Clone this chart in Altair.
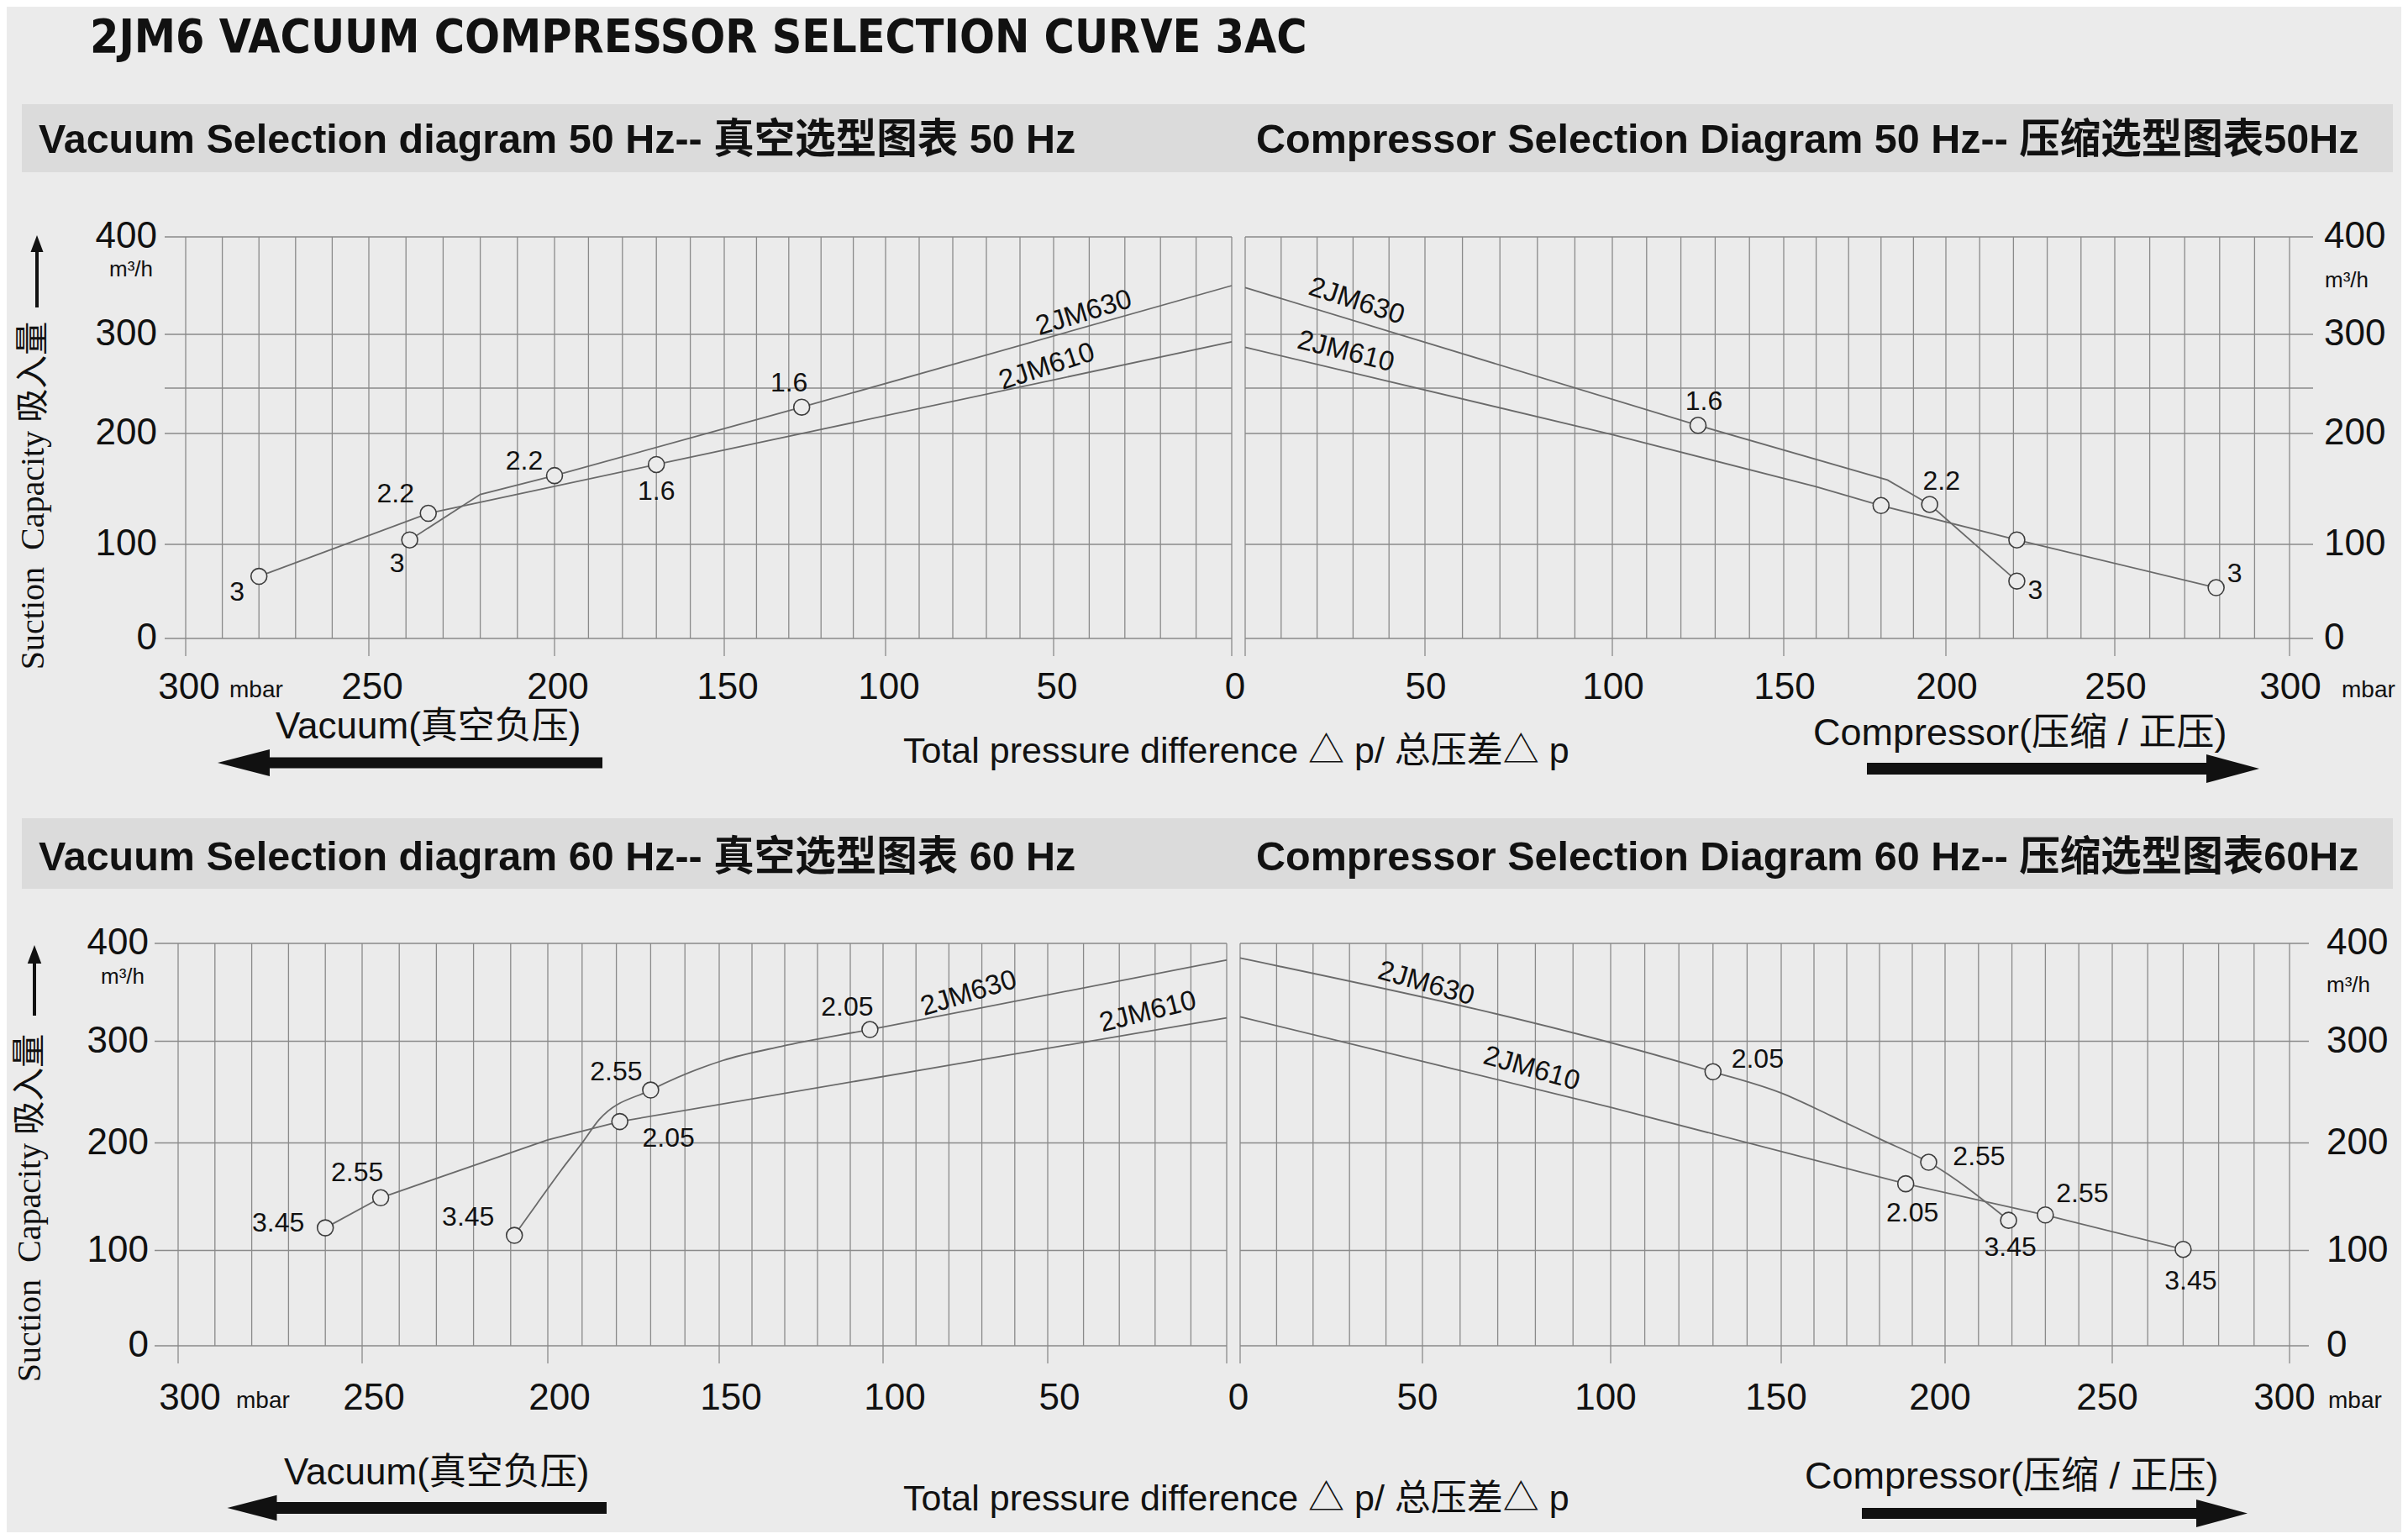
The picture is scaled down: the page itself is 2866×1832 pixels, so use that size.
import altair as alt
import pandas as pd

# ------------------------------------------------------------------
# Values
# x = total pressure difference (mbar), y = suction capacity (m3/h)
# ------------------------------------------------------------------

# Vacuum, 50 Hz
V50_610_X = [280, 234, 170, 0]
V50_610_Y = [66, 128, 172, 293]
V50_630_X = [239, 220, 200, 126, 0]
V50_630_Y = [104, 145, 162, 229, 350]
V50_PT_X = [280, 234, 170, 239, 200, 126]
V50_PT_Y = [66, 128, 172, 104, 162, 229]
V50_PT_KW = ["3", "2.2", "1.6", "3", "2.2", "1.6"]

# Compressor, 50 Hz
C50_630_X = [0, 125, 182, 195, 221]
C50_630_Y = [348, 209, 158, 136, 61]
C50_610_X = [0, 100, 160, 180, 221, 279]
C50_610_Y = [288, 199, 152, 135, 104, 54]
C50_PT_X = [125, 195, 221, 180, 221, 279]
C50_PT_Y = [209, 136, 61, 135, 104, 54]
C50_PT_KW = ["1.6", "2.2", "3", "", "", "3"]

# Vacuum, 60 Hz
V60_610_X = [260, 245, 200, 179, 0]
V60_610_Y = [121, 149, 203, 221, 324]
V60_630_X = [209, 203, 196, 190, 185, 170, 149, 131, 104, 0]
V60_630_Y = [114, 143, 175, 200, 223, 252, 281, 295, 312, 383]
V60_PT_X = [260, 245, 179, 209, 170, 104]
V60_PT_Y = [121, 149, 221, 114, 252, 312]
V60_PT_KW = ["3.45", "2.55", "2.05", "3.45", "2.55", "2.05"]

# Compressor, 60 Hz
C60_630_X = [0, 130, 150, 165, 180, 195, 219]
C60_630_Y = [385, 270, 249, 227, 204, 182, 128]
C60_610_X = [0, 100, 188, 230, 270]
C60_610_Y = [325, 235, 162, 133, 101]
C60_PT_X = [130, 195, 219, 188, 230, 270]
C60_PT_Y = [270, 182, 128, 162, 133, 101]
C60_PT_KW = ["2.05", "2.55", "3.45", "2.05", "2.55", "3.45"]

# series names written along the curves: (name, x, y)
V50_NAMES = [("2JM630", 41.5, 322), ("2JM610", 52, 270)]
C50_NAMES = [("2JM630", 31, 334), ("2JM610", 28, 284)]
V60_NAMES = [("2JM630", 74, 349), ("2JM610", 22, 330)]
C60_NAMES = [("2JM630", 51, 359), ("2JM610", 79, 273)]

# axis values
X_TICKS = [0, 50, 100, 150, 200, 250, 300]
X_GRID = [0, 10, 20, 30, 40, 50, 60, 70, 80, 90, 100, 110, 120, 130, 140, 150,
          160, 170, 180, 190, 200, 210, 220, 230, 240, 250, 260, 270, 280, 290, 300]
Y_TICKS = [0, 100, 200, 300, 400]
Y_GRID_50 = [0, 100, 200, 250, 300, 400]
Y_GRID_60 = [0, 100, 200, 300, 400]

# ------------------------------------------------------------------
# Styles / layout
# ------------------------------------------------------------------
BG = "#ebebeb"
BAND = "#dbdbdb"
GRID = "#8a8a8a"
CURVE = "#6a6a6a"
INK = "#111111"
FONT = "Liberation Sans, Arial, Noto Sans CJK SC, sans-serif"
SERIF = "Liberation Serif, Times New Roman, Noto Sans CJK SC, serif"
TITLE_FONT = "Liberation Sans Narrow, DejaVu Sans Condensed, Liberation Sans, sans-serif"
TICK_FS = 44

M = 8
W, H = 2850, 1816


def P(v):
    return v - M


X_DOM = [0, 50, 100, 150, 200, 250, 300, 306]
TOP_YDOM = [0, 100, 200, 250, 300, 400]
TOP_YR = [760, 648, 516, 462, 398, 282]
BOT_YDOM = [0, 100, 200, 300, 400]
BOT_YR = [1602, 1488.5, 1360.5, 1239.5, 1123]

LAYOUT = {
    "TL": dict(xr=[1466, 1254, 1054, 862, 660, 439, 221, 196], ydom=TOP_YDOM, yr=TOP_YR,
               side="left", ypad=9, unit=(-14, 39), mbar=52, xlab_dy=59, xlab_dx=4, zero=True),
    "TR": dict(xr=[1482, 1696, 1919, 2123, 2316, 2517, 2725, 2753], ydom=TOP_YDOM, yr=TOP_YR,
               side="right", ypad=13, unit=(14, 52), mbar=62, xlab_dy=59, xlab_dx=1, zero=False),
    "BL": dict(xr=[1460, 1247, 1051, 856, 652, 431, 212, 184], ydom=BOT_YDOM, yr=BOT_YR,
               side="left", ypad=7, unit=(-12, 40), mbar=69, xlab_dy=63, xlab_dx=14, zero=True),
    "BR": dict(xr=[1476, 1693, 1917, 2120, 2315, 2514, 2725, 2748], ydom=BOT_YDOM, yr=BOT_YR,
               side="right", ypad=21, unit=(21, 50), mbar=46, xlab_dy=63, xlab_dx=-6, zero=False),
}

LABEL_OFFSETS = {
    "TL": [(-26, 19), (-39, -23), (0, 32), (-15, 28), (-36, -17), (-15, -29)],
    "TR": [(7, -28), (14, -27), (22, 11), (0, 0), (0, 0), (22, -17)],
    "BL": [(-56, -6), (-28, -30), (58, 20), (-55, -22), (-41, -22), (-27, -27)],
    "BR": [(53, -15), (60, -7), (2, 32), (8, 35), (44, -25), (9, 38)],
}
NAME_ANGLES = {"TL": [343, 342], "TR": [18, 14], "BL": [343, 346], "BR": [16, 16]}


def panel(key, series, pts, names, ygrid):
    L = LAYOUT[key]
    xs = alt.Scale(domain=X_DOM, range=[P(v) for v in L["xr"]], nice=False, zero=False)
    ys = alt.Scale(domain=L["ydom"], range=[P(v) for v in L["yr"]], nice=False, zero=False)
    y0 = P(L["yr"][0])
    left = L["side"] == "left"

    def X(f):
        return alt.X(f, scale=xs, axis=None)

    def Y(f):
        return alt.Y(f, scale=ys, axis=None)

    one = pd.DataFrame({"k": [0]})
    layers = []
    # grid
    layers.append(
        alt.Chart(pd.DataFrame({"v": X_GRID})).mark_rule(color=GRID, strokeWidth=1.3).encode(
            x=X("v:Q"), y=alt.Y(datum=0, scale=ys, axis=None), y2=alt.Y2(datum=400))
    )
    layers.append(
        alt.Chart(pd.DataFrame({"v": ygrid})).mark_rule(color=GRID, strokeWidth=1.6).encode(
            y=Y("v:Q"), x=alt.X(datum=0, scale=xs, axis=None), x2=alt.X2(datum=306))
    )
    # x ticks below the zero line and tick labels
    layers.append(
        alt.Chart(pd.DataFrame({"v": X_TICKS})).mark_rule(color=GRID, strokeWidth=1.3).encode(
            x=X("v:Q"), y=alt.Y(datum=0, scale=ys, axis=None), y2=alt.value(y0 + 21))
    )
    xlab = X_TICKS if L["zero"] else [v for v in X_TICKS if v != 0]
    layers.append(
        alt.Chart(pd.DataFrame({"v": xlab})).mark_text(
            fontSize=TICK_FS, font=FONT, color=INK, baseline="middle",
            dx=L["xlab_dx"], dy=L["xlab_dy"]).encode(
            x=X("v:Q"), y=alt.Y(datum=0, scale=ys, axis=None), text=alt.Text("v:Q", format="d"))
    )
    # y tick labels
    layers.append(
        alt.Chart(pd.DataFrame({"v": Y_TICKS})).mark_text(
            fontSize=TICK_FS, font=FONT, color=INK, baseline="middle",
            align=("right" if left else "left"),
            dx=(-L["ypad"] if left else L["ypad"])).encode(
            y=Y("v:Q"), x=alt.X(datum=306, scale=xs, axis=None), text=alt.Text("v:Q", format="d"))
    )
    # curves
    for name, xv, yv, interp in series:
        df = pd.DataFrame({"x": xv, "y": yv})
        layers.append(
            alt.Chart(df).mark_line(color=CURVE, strokeWidth=1.8, interpolate=interp).encode(
                x=X("x:Q"), y=Y("y:Q"))
        )
    # marked points
    px_, py_, kw_ = pts
    pdf = pd.DataFrame({"x": px_, "y": py_, "kw": kw_})
    layers.append(
        alt.Chart(pdf).mark_circle(size=360, fill=BG, stroke="#3c3c3c", strokeWidth=1.6,
                                   opacity=1, fillOpacity=1).encode(x=X("x:Q"), y=Y("y:Q"))
    )
    for i, kw in enumerate(kw_):
        if not kw:
            continue
        dx, dy = LABEL_OFFSETS[key][i]
        layers.append(
            alt.Chart(pdf.iloc[[i]]).mark_text(dx=dx, dy=dy, fontSize=32, font=FONT,
                                               color=INK, baseline="middle").encode(
                x=X("x:Q"), y=Y("y:Q"), text="kw:N")
        )
    for (nm, nx, ny), ang in zip(names, NAME_ANGLES[key]):
        layers.append(
            alt.Chart(pd.DataFrame({"x": [nx], "y": [ny], "t": [nm]})).mark_text(
                angle=ang, fontSize=33, font=FONT, color=INK, baseline="middle").encode(
                x=X("x:Q"), y=Y("y:Q"), text="t:N")
        )
    # units
    udx, udy = L["unit"]
    layers.append(
        alt.Chart(one).mark_text(text="m³/h", fontSize=26, font=FONT, color=INK,
                                 align=("right" if left else "left"), baseline="middle",
                                 dx=udx, dy=udy).encode(
            x=alt.X(datum=306, scale=xs, axis=None), y=alt.Y(datum=400, scale=ys, axis=None))
    )
    layers.append(
        alt.Chart(one).mark_text(text="mbar", fontSize=28, font=FONT, color=INK,
                                 align="left", baseline="middle", dx=L["mbar"],
                                 dy=L["xlab_dy"] + 3).encode(
            x=alt.X(datum=300, scale=xs, axis=None), y=alt.Y(datum=0, scale=ys, axis=None))
    )
    return alt.layer(*layers)


# ------------------------------------------------------------------
# Decorations (frame texts, bands, arrows)
# ------------------------------------------------------------------
ONE = pd.DataFrame({"k": [0]})


def txt(s, x, y, size, font=FONT, weight="normal", align="left", baseline="middle", angle=None):
    kw = dict(text=s, fontSize=size, font=font, fontWeight=weight, align=align,
              baseline=baseline, color=INK)
    if angle is not None:
        kw["angle"] = angle
    return alt.Chart(ONE).mark_text(**kw).encode(x=alt.value(P(x)), y=alt.value(P(y)))


def band(x1, x2, y1, y2, color):
    return alt.Chart(ONE).mark_rect(color=color).encode(
        x=alt.value(P(x1)), x2=alt.value(P(x2)), y=alt.value(P(y1)), y2=alt.value(P(y2)))


def head(path, cx, cy, length):
    return alt.Chart(ONE).mark_point(shape=path, size=length ** 2, filled=True, color=INK,
                                     opacity=1, strokeWidth=0).encode(
        x=alt.value(P(cx)), y=alt.value(P(cy)))


LEFT_HEAD = "M-1,0L1,-0.52L1,0.52Z"
RIGHT_HEAD = "M1,0L-1,-0.54L-1,0.54Z"
UP_HEAD = "M0,-1L0.75,1L-0.75,1Z"

decor = [
    band(26, 2848, 124, 205, BAND),
    band(26, 2848, 974, 1058, BAND),
    txt("2JM6 VACUUM COMPRESSOR SELECTION CURVE 3AC", 107, 62, 55, font=TITLE_FONT,
        weight="bold", baseline="alphabetic"),
    txt("Vacuum Selection diagram 50 Hz-- 真空选型图表 50 Hz", 46, 182, 48.5, weight="bold",
        baseline="alphabetic"),
    txt("Compressor Selection Diagram 50 Hz-- 压缩选型图表50Hz", 1495, 182, 48.5, weight="bold",
        baseline="alphabetic"),
    txt("Vacuum Selection diagram 60 Hz-- 真空选型图表 60 Hz", 46, 1036, 48.5, weight="bold",
        baseline="alphabetic"),
    txt("Compressor Selection Diagram 60 Hz-- 压缩选型图表60Hz", 1495, 1036, 48.5, weight="bold",
        baseline="alphabetic"),
    # y-axis titles and arrows
    txt("Suction\u2002Capacity 吸入量", 40, 590, 40, font=SERIF, align="center", angle=270),
    txt("Suction\u2002Capacity 吸入量", 36, 1438, 40, font=SERIF, align="center", angle=270),
    band(42, 46, 298, 366, INK),
    head(UP_HEAD, 44, 290, 20),
    band(39, 43, 1146, 1209, INK),
    head(UP_HEAD, 41, 1136, 22),
    # direction captions, row 1
    txt("Vacuum(真空负压)", 328, 866, 44),
    txt("Total pressure difference △ p/ 总压差△ p", 1075, 895, 43),
    txt("Compressor(压缩 / 正压)", 2158, 873, 45),
    band(321, 717, 901.5, 914.5, INK),
    head(LEFT_HEAD, 290, 908, 62),
    band(2222, 2626, 908, 922, INK),
    head(RIGHT_HEAD, 2657.5, 915, 63),
    # direction captions, row 2
    txt("Vacuum(真空负压)", 338, 1754, 44),
    txt("Total pressure difference △ p/ 总压差△ p", 1075, 1785, 43),
    txt("Compressor(压缩 / 正压)", 2148, 1758, 45),
    band(329, 722, 1788, 1802, INK),
    head(LEFT_HEAD, 300, 1795, 59),
    band(2216, 2614, 1795, 1808, INK),
    head(RIGHT_HEAD, 2644.5, 1801.5, 61),
]

tl = panel("TL",
           [("2JM610", V50_610_X, V50_610_Y, "linear"), ("2JM630", V50_630_X, V50_630_Y, "linear")],
           (V50_PT_X, V50_PT_Y, V50_PT_KW), V50_NAMES, Y_GRID_50)
tr = panel("TR",
           [("2JM630", C50_630_X, C50_630_Y, "linear"), ("2JM610", C50_610_X, C50_610_Y, "linear")],
           (C50_PT_X, C50_PT_Y, C50_PT_KW), C50_NAMES, Y_GRID_50)
bl = panel("BL",
           [("2JM610", V60_610_X, V60_610_Y, "linear"), ("2JM630", V60_630_X, V60_630_Y, "monotone")],
           (V60_PT_X, V60_PT_Y, V60_PT_KW), V60_NAMES, Y_GRID_60)
br = panel("BR",
           [("2JM630", C60_630_X, C60_630_Y, "monotone"), ("2JM610", C60_610_X, C60_610_Y, "linear")],
           (C60_PT_X, C60_PT_Y, C60_PT_KW), C60_NAMES, Y_GRID_60)

chart = alt.layer(*decor, tl, tr, bl, br).resolve_scale(
    x="independent", y="independent"
).properties(
    width=W, height=H, padding=0, background=BG,
    autosize=alt.AutoSizeParams(type="none"),
).configure_view(stroke=None)

chart.save("out.html", embed_options={"renderer": "svg", "actions": False})
